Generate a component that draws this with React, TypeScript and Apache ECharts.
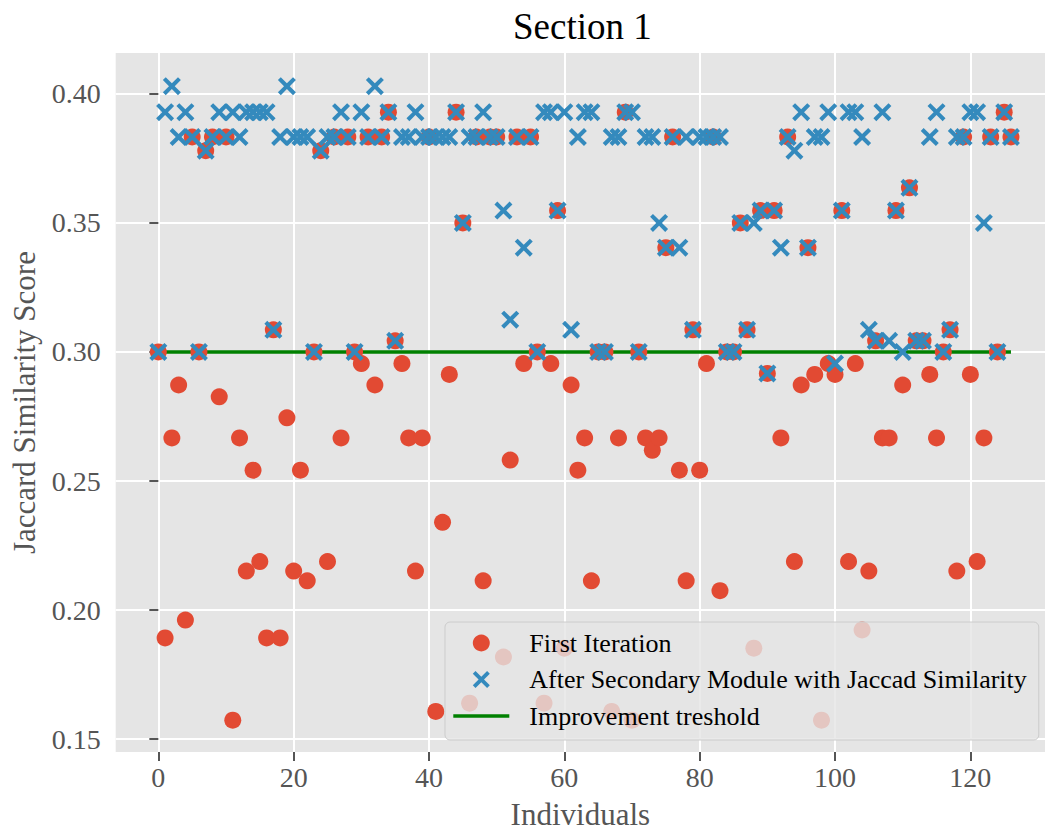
import React, { useEffect, useRef } from "react";
import * as echarts from "echarts";

// Individuals are indexed 0..126 (position in these arrays)
const firstIteration = [
  0.3, 0.1892, 0.2667, 0.2872, 0.1961, 0.3833, 0.3, 0.378, 0.3833, 0.2826,
  0.3833, 0.1573, 0.2667, 0.2151, 0.2542, 0.2188, 0.1892, 0.3086, 0.1892, 0.2745,
  0.2151, 0.2542, 0.2113, 0.3, 0.378, 0.2188, 0.3833, 0.2667, 0.3833, 0.3,
  0.2955, 0.3833, 0.2872, 0.3833, 0.3929, 0.3043, 0.2955, 0.2667, 0.2151, 0.2667,
  0.3833, 0.1607, 0.234, 0.2913, 0.3929, 0.35, 0.1639, 0.3833, 0.2113, 0.3833,
  0.3833, 0.1818, 0.2581, 0.3833, 0.2955, 0.3833, 0.3, 0.1639, 0.2955, 0.3548,
  0.1852, 0.2872, 0.2542, 0.2667, 0.2113, 0.3, 0.3, 0.1607, 0.2667, 0.3929,
  0.1573, 0.3, 0.2667, 0.2619, 0.2667, 0.3404, 0.3833, 0.2542, 0.2113, 0.3086,
  0.2542, 0.2955, 0.3833, 0.2075, 0.3, 0.3, 0.35, 0.3086, 0.1852, 0.3548,
  0.2917, 0.3548, 0.2667, 0.3833, 0.2188, 0.2872, 0.3404, 0.2913, 0.1573, 0.2955,
  0.2913, 0.3548, 0.2188, 0.2955, 0.1923, 0.2151, 0.3043, 0.2667, 0.2667, 0.3548,
  0.2872, 0.3636, 0.3043, 0.3043, 0.2913, 0.2667, 0.3, 0.3086, 0.2151, 0.3833,
  0.2913, 0.2188, 0.2667, 0.3833, 0.3, 0.3929, 0.3833,
];

const afterSecondary = [
  0.3, 0.3929, 0.403, 0.3833, 0.3929, 0.3833, 0.3, 0.378, 0.3833, 0.3929,
  0.3833, 0.3929, 0.3833, 0.3929, 0.3929, 0.3929, 0.3929, 0.3086, 0.3833, 0.403,
  0.3833, 0.3833, 0.3833, 0.3, 0.378, 0.3833, 0.3833, 0.3929, 0.3833, 0.3,
  0.3929, 0.3833, 0.403, 0.3833, 0.3929, 0.3043, 0.3833, 0.3833, 0.3929, 0.3833,
  0.3833, 0.3833, 0.3833, 0.3833, 0.3929, 0.35, 0.3833, 0.3833, 0.3929, 0.3833,
  0.3833, 0.3548, 0.3125, 0.3833, 0.3404, 0.3833, 0.3, 0.3929, 0.3929, 0.3548,
  0.3929, 0.3086, 0.3833, 0.3929, 0.3929, 0.3, 0.3, 0.3833, 0.3833, 0.3929,
  0.3929, 0.3, 0.3833, 0.3833, 0.35, 0.3404, 0.3833, 0.3404, 0.3833, 0.3086,
  0.3833, 0.3833, 0.3833, 0.3833, 0.3, 0.3, 0.35, 0.3086, 0.35, 0.3548,
  0.2917, 0.3548, 0.3404, 0.3833, 0.378, 0.3929, 0.3404, 0.3833, 0.3833, 0.3929,
  0.2955, 0.3548, 0.3929, 0.3929, 0.3833, 0.3086, 0.3043, 0.3929, 0.3043, 0.3548,
  0.3, 0.3636, 0.3043, 0.3043, 0.3833, 0.3929, 0.3, 0.3086, 0.3833, 0.3833,
  0.3929, 0.3929, 0.35, 0.3833, 0.3, 0.3929, 0.3833,
];

const thresholdX = [0, 126];
const thresholdValue = 0.3;

const xTicks = [0, 20, 40, 60, 80, 100, 120];
const yTicks = [0.15, 0.2, 0.25, 0.3, 0.35, 0.4];

const X_PATH =
  "path://M0,1.6L1.6,0L5,3.4L8.4,0L10,1.6L6.6,5L10,8.4L8.4,10L5,6.6L1.6,10L0,8.4L3.4,5Z";
const LINE_ICON = "path://M0,0L56,0L56,3.5L0,3.5Z";

const FONT = "'Liberation Serif', 'Times New Roman', Times, serif";

export default function App() {
  const ref = useRef<HTMLDivElement>(null);

  useEffect(() => {
    if (!ref.current) return;
    const chart = echarts.init(ref.current, null, { renderer: "svg" });

    const redData = firstIteration.map((v, i) => [i, v]);
    const blueData = afterSecondary.map((v, i) => [i, v]);
    const lineData = thresholdX.map((x) => [x, thresholdValue]);

    chart.setOption({
      animation: false,
      backgroundColor: "#ffffff",
      title: {
        text: "Section 1",
        left: 513,
        top: 8,
        padding: 0,
        textStyle: {
          fontFamily: FONT,
          fontSize: 37,
          fontWeight: "normal",
          color: "#000000",
        },
      },
      grid: {
        show: true,
        backgroundColor: "#E5E5E5",
        borderWidth: 0,
        left: 115.7,
        right: 0,
        top: 53.1,
        bottom: 80.3,
        containLabel: false,
      },
      xAxis: {
        type: "value",
        min: -6.3,
        max: 131.03,
        axisLine: { show: false },
        axisTick: {
          show: true,
          length: 9,
          customValues: xTicks,
          lineStyle: { color: "#555555", width: 2 },
        },
        axisLabel: {
          customValues: xTicks,
          color: "#555555",
          fontFamily: FONT,
          fontSize: 28,
          margin: 11,
        },
        splitLine: { show: true, lineStyle: { color: "#ffffff", width: 2 } },
        name: "Individuals",
        nameLocation: "middle",
        nameGap: 47,
        nameTextStyle: { fontFamily: FONT, fontSize: 31, color: "#555555" },
      },
      yAxis: {
        type: "value",
        min: 0.14499,
        max: 0.41581,
        axisLine: { show: false },
        axisTick: {
          show: true,
          length: 9,
          customValues: yTicks,
          lineStyle: { color: "#555555", width: 2 },
        },
        axisLabel: {
          customValues: yTicks,
          color: "#555555",
          fontFamily: FONT,
          fontSize: 28,
          margin: 15,
          formatter: (v: number) => v.toFixed(2),
        },
        splitLine: { show: true, lineStyle: { color: "#ffffff", width: 2 } },
        name: "Jaccard Similarity Score",
        nameLocation: "middle",
        nameGap: 76,
        nameTextStyle: { fontFamily: FONT, fontSize: 31, color: "#555555" },
      },
      legend: {
        left: 445,
        top: 622,
        orient: "vertical",
        padding: [5.5, 12, 8.5, 8.3],
        itemWidth: 56,
        itemHeight: 17,
        itemGap: 5.5,
        selectedMode: false,
        backgroundColor: "rgba(229,229,229,0.8)",
        borderColor: "#cccccc",
        borderWidth: 1,
        borderRadius: 5,
        textStyle: {
          fontFamily: FONT,
          fontSize: 26,
          color: "#000000",
          lineHeight: 31,
          padding: [0, 0, 0, 15],
        },
        data: [
          { name: "First Iteration" },
          { name: "After Secondary Module with Jaccad Similarity" },
          { name: "Improvement treshold", icon: LINE_ICON },
        ],
      },
      series: [
        {
          name: "First Iteration",
          type: "scatter",
          data: redData,
          symbol: "circle",
          symbolSize: 17,
          itemStyle: { color: "#E24A33", opacity: 1 },
          z: 2,
        },
        {
          name: "After Secondary Module with Jaccad Similarity",
          type: "scatter",
          data: blueData,
          symbol: X_PATH,
          symbolSize: 18,
          itemStyle: { color: "#348ABD", opacity: 1 },
          z: 2,
        },
        {
          name: "Improvement treshold",
          type: "line",
          data: lineData,
          symbol: "none",
          showSymbol: false,
          lineStyle: { color: "#008000", width: 3.5 },
          itemStyle: { color: "#008000" },
          z: 2,
        },
      ],
    });

    return () => chart.dispose();
  }, []);

  return (
    <div
      ref={ref}
      style={{ position: "fixed", left: 0, top: 0, width: 1045, height: 835 }}
    />
  );
}
